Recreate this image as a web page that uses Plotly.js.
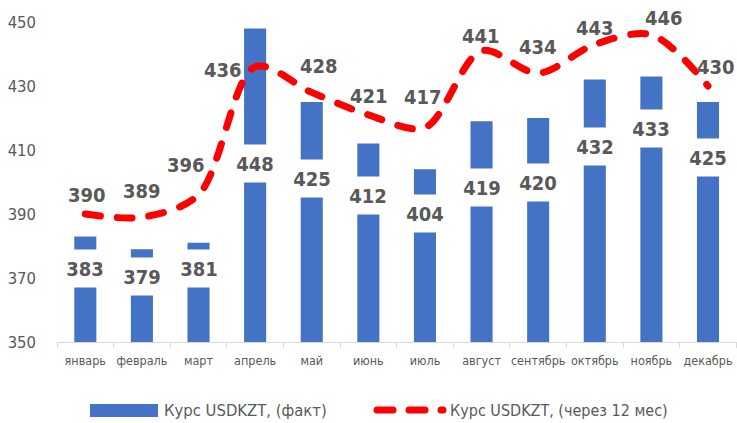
<!DOCTYPE html>
<html>
<head>
<meta charset="utf-8">
<script src="https://cdn.plot.ly/plotly-3.0.1.min.js"></script>
<style>
  html, body { margin: 0; padding: 0; background: #fff; }
  #chart { width: 737px; height: 423px; }
  .scatterlayer .js-line { stroke-linecap: round !important; }
  .shapelayer path { stroke-linecap: round !important; }
</style>
</head>
<body>
<div id="chart"></div>
<script>
// ---- data ----
const months = ["январь","февраль","март","апрель","май","июнь","июль","август","сентябрь","октябрь","ноябрь","декабрь"];
const factValues = [383, 379, 381, 448, 425, 412, 404, 419, 420, 432, 433, 425];
const forecastValues = [390, 389, 396, 436, 428, 421, 417, 441, 434, 443, 446, 430];
const factName = "Курс USDKZT, (факт)";
const forecastName = "Курс USDKZT, (через 12 мес)";
const yTicks = [350, 370, 390, 410, 430, 450];

// ---- label placement (layout, not data) ----
const factLabelLevel = [373, 370.5, 373, 405.8, 401.1, 395.8, 390.2, 398.4, 399.8, 411.2, 416.8, 407.7];
const fcLabelDx = [2, 0, -13, -32, 7, 1, -2, -1, 0, 0, 13, 8];
const fcLabelDy = [19, 26, 30, -3, 26, 19, 31, 15, 26, 16, 17, 19];

const FONT = '"DejaVu Sans Condensed", "Liberation Sans Narrow", sans-serif';
const GREY = "#595959";
const BLUE = "#4472C4";
const RED = "#FF0000";

const traces = [
  {
    type: "bar", x: months, y: factValues, name: factName,
    marker: { color: BLUE }, showlegend: false, hoverinfo: "skip"
  },
  {
    type: "scatter", mode: "lines", x: months, y: forecastValues, name: forecastName,
    line: { color: RED, width: 7, dash: "15px,17px", shape: "spline", smoothing: 0.9 },
    showlegend: false, hoverinfo: "skip", cliponaxis: false
  }
];

const annotations = [];
months.forEach((m, i) => {
  annotations.push({
    x: m, y: factLabelLevel[i], xref: "x", yref: "y",
    text: "<b>" + factValues[i] + "</b>", showarrow: false,
    font: { family: FONT, size: 20, color: GREY },
    bgcolor: "#ffffff", height: 31, width: 40, borderpad: 3,
    xanchor: "center", yanchor: "middle"
  });
  annotations.push({
    x: m, y: forecastValues[i], xref: "x", yref: "y",
    text: "<b>" + forecastValues[i] + "</b>", showarrow: false,
    font: { family: FONT, size: 20, color: GREY },
    xshift: fcLabelDx[i], yshift: fcLabelDy[i],
    xanchor: "center", yanchor: "middle"
  });
});

// custom legend
const px2x = p => (p - 57) / 680;
const px2y = p => (342 - p) / 320;
annotations.push({
  x: px2x(162), y: px2y(410.5), xref: "paper", yref: "paper", xanchor: "left", yanchor: "middle",
  text: factName, showarrow: false, font: { family: FONT, size: 16.5, color: GREY }
});
annotations.push({
  x: px2x(448), y: px2y(410.5), xref: "paper", yref: "paper", xanchor: "left", yanchor: "middle",
  text: forecastName, showarrow: false, font: { family: FONT, size: 16, color: GREY }
});
const shapes = [
  { type: "rect", xref: "paper", yref: "paper", x0: px2x(90), x1: px2x(158), y0: px2y(404), y1: px2y(417),
    fillcolor: BLUE, line: { width: 0 } },
  { type: "line", xref: "paper", yref: "paper", x0: px2x(377), x1: px2x(443), y0: px2y(410), y1: px2y(410),
    line: { color: RED, width: 7, dash: "16px,16px" } }
];

const layout = {
  width: 737, height: 423,
  margin: { l: 57, r: 0, t: 22, b: 81, pad: 0 },
  paper_bgcolor: "#fff", plot_bgcolor: "#fff",
  font: { family: FONT, color: GREY },
  bargap: 0.61,
  showlegend: false,
  xaxis: {
    type: "category", showline: true, linecolor: "#D9D9D9", linewidth: 1,
    ticks: "outside", tickson: "boundaries", ticklen: 5, tickcolor: "#D9D9D9",
    tickangle: 0, automargin: false, ticklabelstandoff: 7,
    tickfont: { family: FONT, size: 12.5, color: GREY }, showgrid: false, zeroline: false,
    fixedrange: true
  },
  yaxis: {
    range: [350, 450], tickvals: yTicks, ticktext: yTicks.map(String),
    showgrid: false, zeroline: false, showline: false, ticks: "",
    tickfont: { family: FONT, size: 16.5, color: GREY }, ticklabelstandoff: 20,
    fixedrange: true
  },
  annotations: annotations,
  shapes: shapes
};

Plotly.newPlot("chart", traces, layout, { staticPlot: true, displayModeBar: false });
</script>
</body>
</html>
